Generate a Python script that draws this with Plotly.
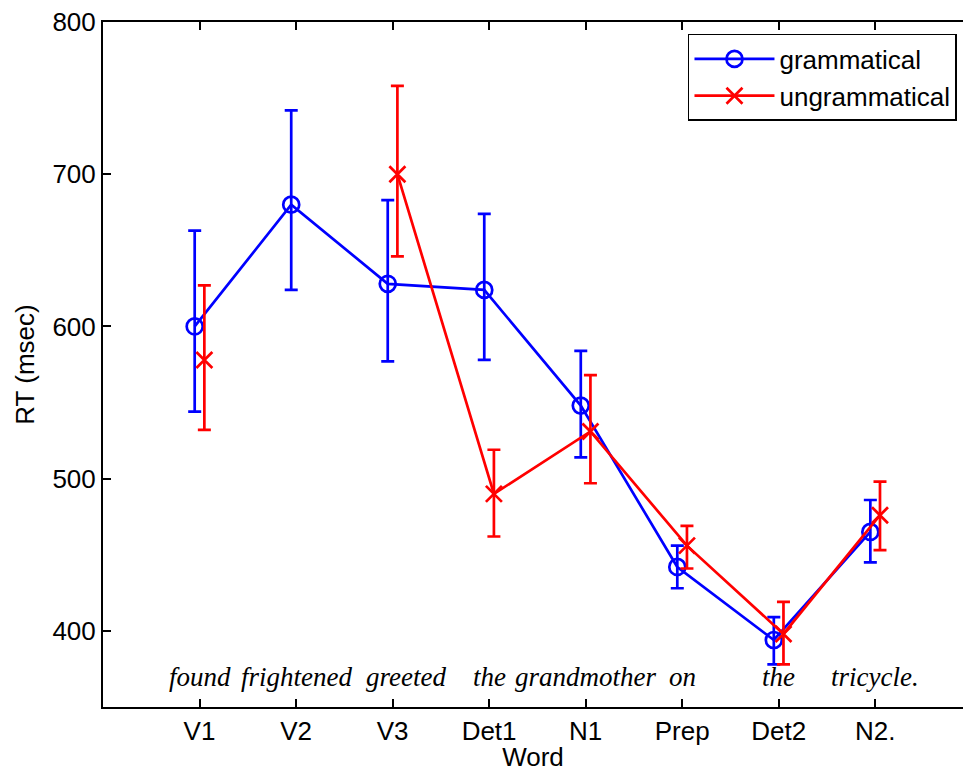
import plotly.graph_objects as go

categories = ["V1", "V2", "V3", "Det1", "N1", "Prep", "Det2", "N2."]
words = ["found", "frightened", "greeted", "the", "grandmother", "on", "the", "tricycle."]

gram_mean = [600, 680, 628, 624, 548, 442, 394, 465]
gram_upper = [663, 742, 683, 674, 584, 456, 409, 486]
gram_lower = [544, 624, 577, 578, 514, 428, 378, 445]

ungram_mean = [578, None, 700, 490, 531, 456, 398, 476]
ungram_upper = [627, None, 758, 519, 568, 469, 419, 498]
ungram_lower = [532, None, 646, 462, 497, 441, 378, 453]

pos = list(range(1, len(categories) + 1))
off = 0.05


def plus(m, u):
    return [None if a is None else b - a for a, b in zip(m, u)]


def minus(m, l):
    return [None if a is None else a - b for a, b in zip(m, l)]


BLUE = "#0000ff"
RED = "#ff0000"
FONT = "Liberation Sans, Arial, sans-serif"

fig = go.Figure()
fig.add_trace(go.Scatter(
    x=[p - off for p in pos], y=gram_mean, name="grammatical",
    mode="lines+markers",
    line=dict(color=BLUE, width=2.7),
    marker=dict(symbol="circle-open", size=16, color=BLUE, line=dict(width=2.7, color=BLUE)),
    error_y=dict(type="data", symmetric=False, array=plus(gram_mean, gram_upper),
                 arrayminus=minus(gram_mean, gram_lower), color=BLUE, thickness=2.7, width=6.5),
))
fig.add_trace(go.Scatter(
    x=[p + off for p in pos], y=ungram_mean, name="ungrammatical",
    mode="lines+markers", connectgaps=False,
    line=dict(color=RED, width=2.7),
    marker=dict(symbol="x-thin-open", size=16, color=RED, line=dict(width=2.7, color=RED)),
    error_y=dict(type="data", symmetric=False, array=plus(ungram_mean, ungram_upper),
                 arrayminus=minus(ungram_mean, ungram_lower), color=RED, thickness=2.7, width=6.5),
))

word_shift = {2: 13}
for i, w in enumerate(words):
    fig.add_annotation(x=pos[i], y=369.5, xref="x", yref="y", text=w, showarrow=False,
                       xanchor="center", yanchor="middle", xshift=word_shift.get(i, 0),
                       font=dict(family="Liberation Serif, Times New Roman, serif", size=27,
                                 style="italic", color="black"))

fig.update_layout(
    width=963, height=772,
    margin=dict(l=103, r=0, t=22, b=65),
    paper_bgcolor="white", plot_bgcolor="white",
    font=dict(family=FONT, size=26, color="black"),
    legend=dict(x=0.993, y=0.9825, xanchor="right", yanchor="top",
                bgcolor="white", bordercolor="black", borderwidth=1.5,
                font=dict(family=FONT, size=26, color="black"),
                itemwidth=80, tracegroupgap=0),
)
fig.update_xaxes(
    range=[0, 8.91], tickvals=pos, ticktext=categories,
    showline=True, linecolor="black", linewidth=2, mirror="ticks",
    ticks="inside", ticklen=8, tickwidth=1.5, tickcolor="black",
    showgrid=False, zeroline=False,
    title=dict(text="Word", standoff=7, font=dict(family=FONT, size=26)),
    tickfont=dict(family=FONT, size=26),
)
fig.update_yaxes(
    range=[350, 800], tickvals=[400, 500, 600, 700, 800],
    showline=True, linecolor="black", linewidth=2, mirror=False,
    ticks="inside", ticklen=8, tickwidth=1.5, tickcolor="black",
    showgrid=False, zeroline=False,
    title=dict(text="RT (msec)", standoff=10, font=dict(family=FONT, size=26)),
    tickfont=dict(family=FONT, size=26),
)

fig.write_html("out.html")
